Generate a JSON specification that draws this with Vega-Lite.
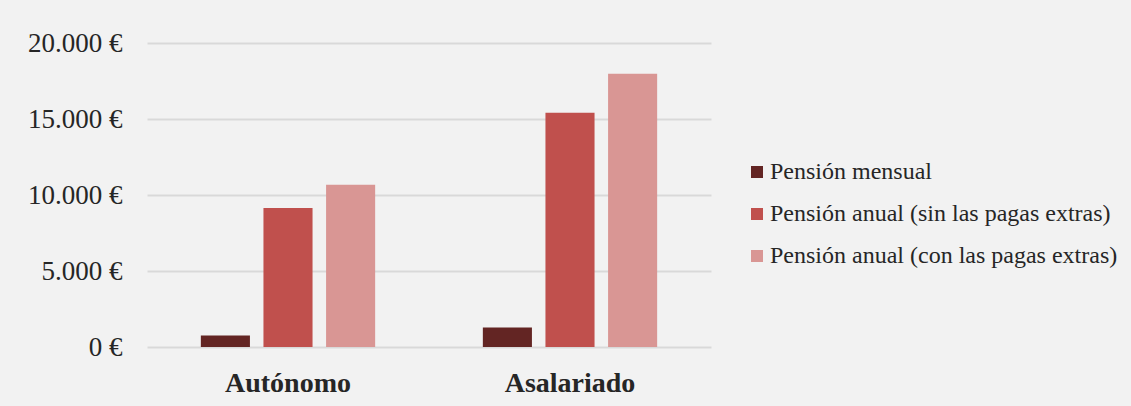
{
  "$schema": "https://vega.github.io/schema/vega-lite/v6.json",
  "autosize": {"type": "none"},
  "padding": {"left": 147, "top": 43, "right": 420, "bottom": 59},
  "width": 564,
  "height": 304,
  "background": "#f2f2f2",
  "config": {
    "view": {"stroke": null},
    "locale": {
      "number": {"decimal": ",", "thousands": ".", "grouping": [3], "currency": ["", " €"]}
    },
    "font": "Liberation Serif"
  },
  "data": {
    "values": [
      {"grupo": "Autónomo", "serie": "Pensión mensual", "valor": 762},
      {"grupo": "Autónomo", "serie": "Pensión anual (sin las pagas extras)", "valor": 9144},
      {"grupo": "Autónomo", "serie": "Pensión anual (con las pagas extras)", "valor": 10668},
      {"grupo": "Asalariado", "serie": "Pensión mensual", "valor": 1284},
      {"grupo": "Asalariado", "serie": "Pensión anual (sin las pagas extras)", "valor": 15408},
      {"grupo": "Asalariado", "serie": "Pensión anual (con las pagas extras)", "valor": 17976}
    ]
  },
  "mark": {"type": "bar"},
  "encoding": {
    "x": {
      "field": "grupo",
      "type": "nominal",
      "sort": ["Autónomo", "Asalariado"],
      "scale": {"paddingInner": 0, "paddingOuter": 0},
      "axis": {
        "title": null,
        "labelAngle": 0,
        "domain": false,
        "ticks": false,
        "labelFont": "Liberation Serif",
        "labelFontSize": 28,
        "labelFontWeight": "bold",
        "labelColor": "#262626",
        "labelBaseline": "alphabetic",
        "labelPadding": 44
      }
    },
    "xOffset": {
      "field": "serie",
      "type": "nominal",
      "sort": ["Pensión mensual", "Pensión anual (sin las pagas extras)", "Pensión anual (con las pagas extras)"],
      "scale": {"paddingInner": 0.216, "paddingOuter": 0.86}
    },
    "y": {
      "field": "valor",
      "type": "quantitative",
      "scale": {"domain": [0, 20000]},
      "axis": {
        "title": null,
        "values": [0, 5000, 10000, 15000, 20000],
        "format": "$,.0f",
        "domain": false,
        "ticks": false,
        "gridColor": "#d9d9d9",
        "gridWidth": 2,
        "labelFont": "Liberation Serif",
        "labelFontSize": 27,
        "labelColor": "#262626",
        "labelPadding": 25
      }
    },
    "color": {
      "field": "serie",
      "type": "nominal",
      "sort": ["Pensión mensual", "Pensión anual (sin las pagas extras)", "Pensión anual (con las pagas extras)"],
      "scale": {
        "domain": ["Pensión mensual", "Pensión anual (sin las pagas extras)", "Pensión anual (con las pagas extras)"],
        "range": ["#632523", "#c0504d", "#d99694"]
      },
      "legend": {
        "title": null,
        "orient": "none",
        "legendX": 598,
        "legendY": 117,
        "padding": 0,
        "symbolType": "square",
        "symbolSize": 144,
        "symbolStrokeWidth": 0,
        "labelFont": "Liberation Serif",
        "labelFontSize": 24,
        "labelColor": "#262626",
        "labelOffset": 1,
        "labelLimit": 500,
        "rowPadding": 18
      }
    }
  }
}
